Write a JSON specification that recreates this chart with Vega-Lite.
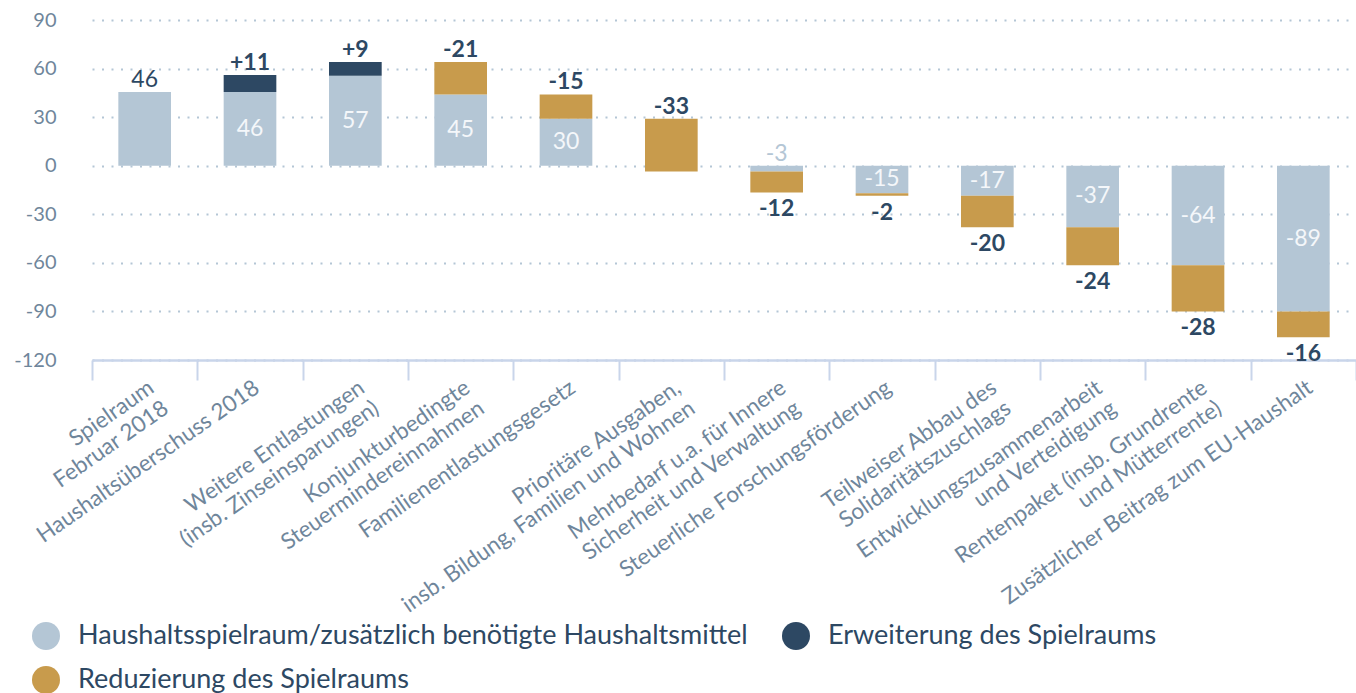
{
  "$schema": "https://vega.github.io/schema/vega-lite/v6.json",
  "autosize": {"type": "none"},
  "width": 1264,
  "height": 340,
  "padding": {"left": 92, "top": 20, "right": 0, "bottom": 333},
  "background": "white",
  "config": {
    "font": "Lato",
    "view": {"stroke": null}
  },
  "data": {
    "values": [
      {"cat": "Spielraum|Februar 2018", "type": "Haushaltsspielraum/zusätzlich benötigte Haushaltsmittel", "start": 0, "end": 45.5, "label": "46"},
      {"cat": "Haushaltsüberschuss 2018", "type": "Haushaltsspielraum/zusätzlich benötigte Haushaltsmittel", "start": 0, "end": 45.5, "label": "46"},
      {"cat": "Haushaltsüberschuss 2018", "type": "Erweiterung des Spielraums", "start": 45.5, "end": 56, "label": "+11"},
      {"cat": "Weitere Entlastungen|(insb. Zinseinsparungen)", "type": "Haushaltsspielraum/zusätzlich benötigte Haushaltsmittel", "start": 0, "end": 55.5, "label": "57"},
      {"cat": "Weitere Entlastungen|(insb. Zinseinsparungen)", "type": "Erweiterung des Spielraums", "start": 55.5, "end": 64, "label": "+9"},
      {"cat": "Konjunkturbedingte|Steuermindereinnahmen", "type": "Haushaltsspielraum/zusätzlich benötigte Haushaltsmittel", "start": 0, "end": 44, "label": "45"},
      {"cat": "Konjunkturbedingte|Steuermindereinnahmen", "type": "Reduzierung des Spielraums", "start": 44, "end": 64, "label": "-21"},
      {"cat": "Familienentlastungsgesetz", "type": "Haushaltsspielraum/zusätzlich benötigte Haushaltsmittel", "start": 0, "end": 29, "label": "30"},
      {"cat": "Familienentlastungsgesetz", "type": "Reduzierung des Spielraums", "start": 29, "end": 44, "label": "-15"},
      {"cat": "Prioritäre Ausgaben,|insb. Bildung, Familien und Wohnen", "type": "Reduzierung des Spielraums", "start": 29, "end": -3.5, "label": "-33"},
      {"cat": "Mehrbedarf u.a. für Innere|Sicherheit und Verwaltung", "type": "Haushaltsspielraum/zusätzlich benötigte Haushaltsmittel", "start": 0, "end": -3.5, "label": "-3"},
      {"cat": "Mehrbedarf u.a. für Innere|Sicherheit und Verwaltung", "type": "Reduzierung des Spielraums", "start": -3.5, "end": -16.5, "label": "-12"},
      {"cat": "Steuerliche Forschungsförderung", "type": "Haushaltsspielraum/zusätzlich benötigte Haushaltsmittel", "start": 0, "end": -17, "label": "-15"},
      {"cat": "Steuerliche Forschungsförderung", "type": "Reduzierung des Spielraums", "start": -17, "end": -18.5, "label": "-2"},
      {"cat": "Teilweiser Abbau des|Solidaritätszuschlags", "type": "Haushaltsspielraum/zusätzlich benötigte Haushaltsmittel", "start": 0, "end": -18.5, "label": "-17"},
      {"cat": "Teilweiser Abbau des|Solidaritätszuschlags", "type": "Reduzierung des Spielraums", "start": -18.5, "end": -38, "label": "-20"},
      {"cat": "Entwicklungszusammenarbeit|und Verteidigung", "type": "Haushaltsspielraum/zusätzlich benötigte Haushaltsmittel", "start": 0, "end": -38, "label": "-37"},
      {"cat": "Entwicklungszusammenarbeit|und Verteidigung", "type": "Reduzierung des Spielraums", "start": -38, "end": -61.5, "label": "-24"},
      {"cat": "Rentenpaket  (insb. Grundrente|und Mütterrente)", "type": "Haushaltsspielraum/zusätzlich benötigte Haushaltsmittel", "start": 0, "end": -61.5, "label": "-64"},
      {"cat": "Rentenpaket  (insb. Grundrente|und Mütterrente)", "type": "Reduzierung des Spielraums", "start": -61.5, "end": -90, "label": "-28"},
      {"cat": "Zusätzlicher Beitrag zum EU-Haushalt", "type": "Haushaltsspielraum/zusätzlich benötigte Haushaltsmittel", "start": 0, "end": -90, "label": "-89"},
      {"cat": "Zusätzlicher Beitrag zum EU-Haushalt", "type": "Reduzierung des Spielraums", "start": -90, "end": -106, "label": "-16"}
    ]
  },
  "transform": [
    {"calculate": "(datum.start + datum.end) / 2", "as": "mid"},
    {"calculate": "max(datum.start, datum.end)", "as": "top"},
    {"calculate": "min(datum.start, datum.end)", "as": "bottom"}
  ],
  "encoding": {
    "x": {
      "field": "cat",
      "type": "nominal",
      "sort": null,
      "scale": {"paddingInner": 0, "paddingOuter": 0},
      "axis": {
        "title": null,
        "labelExpr": "split(datum.label, '|')",
        "labelAngle": -35,
        "labelAlign": "right",
        "labelBaseline": "top",
        "labelFontSize": 22.5,
        "labelColor": "#6F869B",
        "labelLineHeight": 25,
        "labelLimit": 600,
        "labelOffset": 0,
        "labelPadding": -4,
        "labelOverlap": false,
        "domainColor": "#C9D5EA",
        "domainWidth": 2.5,
        "tickColor": "#C9D5EA",
        "tickWidth": 2,
        "tickSize": 20,
        "tickBand": "extent",
        "grid": false
      }
    }
  },
  "layer": [
    {
      "mark": {"type": "rule", "color": "#B4C6D5", "strokeWidth": 2.5},
      "encoding": {"y": {"datum": 0, "type": "quantitative"}}
    },
    {
      "mark": {"type": "bar", "width": {"band": 0.5}},
      "encoding": {
        "y": {
          "field": "start",
          "type": "quantitative",
          "scale": {"domain": [-120, 90], "nice": false, "zero": false},
          "axis": {
            "title": null,
            "values": [-120, -90, -60, -30, 0, 30, 60, 90],
            "labelExpr": "toString(datum.value)",
            "domain": false,
            "ticks": false,
            "tickSize": 0,
            "labelPadding": 36,
            "labelFontSize": 20,
            "labelColor": "#6F869B",
            "grid": true,
            "gridColor": "#B4C6D5",
            "gridDash": [2, 7.5],
            "gridWidth": 2
          }
        },
        "y2": {"field": "end"},
        "color": {
          "field": "type",
          "type": "nominal",
          "scale": {
            "domain": ["Haushaltsspielraum/zusätzlich benötigte Haushaltsmittel", "Erweiterung des Spielraums", "Reduzierung des Spielraums"],
            "range": ["#B4C6D5", "#2D4863", "#C89B4C"]
          },
          "legend": {
            "title": null,
            "orient": "none",
            "legendX": -60,
            "legendY": 602,
            "columns": 2,
            "padding": 0,
            "values": ["Haushaltsspielraum/zusätzlich benötigte Haushaltsmittel", "Reduzierung des Spielraums", "Erweiterung des Spielraums"],
            "symbolType": "circle",
            "symbolSize": 784,
            "symbolStrokeWidth": 0,
            "symbolOpacity": 1,
            "labelFontSize": 27,
            "labelColor": "#2D4863",
            "labelOffset": 18,
            "labelLimit": 0,
            "columnPadding": 34,
            "rowPadding": 16
          }
        }
      }
    },
    {
      "transform": [
        {"filter": "datum.type == 'Haushaltsspielraum/zusätzlich benötigte Haushaltsmittel' && abs(datum.end - datum.start) >= 10 && datum.cat != 'Spielraum|Februar 2018'"}
      ],
      "mark": {"type": "text", "fontSize": 23, "color": "#F4F7FA", "baseline": "middle"},
      "encoding": {
        "y": {"field": "mid", "type": "quantitative"},
        "text": {"field": "label"}
      }
    },
    {
      "transform": [
        {"filter": "datum.type == 'Haushaltsspielraum/zusätzlich benötigte Haushaltsmittel' && (abs(datum.end - datum.start) < 10 || datum.cat == 'Spielraum|Februar 2018')"}
      ],
      "mark": {"type": "text", "fontSize": 23, "baseline": "alphabetic", "dy": -5},
      "encoding": {
        "y": {"field": "top", "type": "quantitative"},
        "text": {"field": "label"},
        "color": {
          "condition": {"test": "datum.cat == 'Spielraum|Februar 2018'", "value": "#2D4863"},
          "value": "#B4C6D5"
        }
      }
    },
    {
      "transform": [
        {"filter": "datum.type != 'Haushaltsspielraum/zusätzlich benötigte Haushaltsmittel' && datum.top > 0"}
      ],
      "mark": {"type": "text", "fontSize": 23, "fontWeight": "bold", "color": "#2D4863", "baseline": "alphabetic", "dy": -5},
      "encoding": {
        "y": {"field": "top", "type": "quantitative"},
        "text": {"field": "label"}
      }
    },
    {
      "transform": [
        {"filter": "datum.type != 'Haushaltsspielraum/zusätzlich benötigte Haushaltsmittel' && datum.top <= 0"}
      ],
      "mark": {"type": "text", "fontSize": 23, "fontWeight": "bold", "color": "#2D4863", "baseline": "top", "dy": 6},
      "encoding": {
        "y": {"field": "bottom", "type": "quantitative"},
        "text": {"field": "label"}
      }
    }
  ]
}
